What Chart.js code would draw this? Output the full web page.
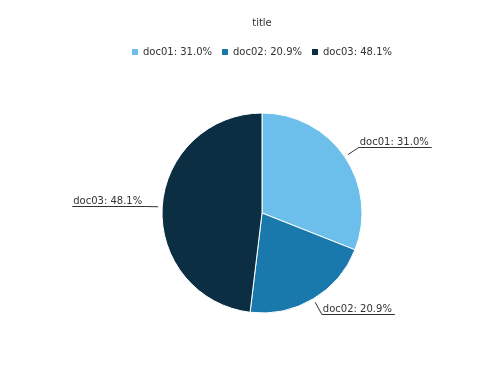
<!DOCTYPE html>
<html>
<head>
<meta charset="utf-8">
<script src="https://cdn.jsdelivr.net/npm/chart.js@4.4.1/dist/chart.umd.min.js"></script>
<style>
  html, body { margin: 0; padding: 0; background: #fff; }
  #wrap { width: 488px; height: 366px; }
</style>
</head>
<body>
<div id="wrap"><canvas id="grafico"></canvas></div>
<script>
// datos del grafico
var etiquetas = ['doc01', 'doc02', 'doc03'];
var valores = [31.0, 20.9, 48.1];
var colores = ['#6bbfea', '#1a79ac', '#0b2e43'];

function textoEtiqueta(i) {
    return etiquetas[i] + ': ' + valores[i].toFixed(1) + '%';
}

// etiquetas con linea guia fuera del pastel
var lineasGuia = {
    id: 'lineasGuia',
    afterDatasetsDraw: function(chart) {
        var ctx = chart.ctx;
        var arcos = chart.getDatasetMeta(0).data;
        ctx.save();
        ctx.font = '10px "DejaVu Sans"';
        ctx.strokeStyle = '#333';
        ctx.fillStyle = '#333';
        ctx.lineWidth = 1;
        arcos.forEach(function(arco, i) {
            var p = arco.getProps(['x', 'y', 'startAngle', 'endAngle', 'outerRadius'], true);
            var medio = (p.startAngle + p.endAngle) / 2;
            var cos = Math.cos(medio), sin = Math.sin(medio);
            var x0 = p.x + cos * (p.outerRadius + 4);
            var y0 = p.y + sin * (p.outerRadius + 4);
            var x1 = p.x + cos * (p.outerRadius + 17);
            var y1 = Math.round(p.y + sin * (p.outerRadius + 17)) + 0.5;
            var texto = textoEtiqueta(i);
            var ancho = ctx.measureText(texto).width + 4;
            var derecha = cos >= 0;
            var x2 = derecha ? x1 + ancho : x1 - ancho;
            ctx.beginPath();
            ctx.moveTo(x0, y0);
            ctx.lineTo(x1, y1);
            ctx.lineTo(x2, y1);
            ctx.stroke();
            ctx.textBaseline = 'alphabetic';
            ctx.textAlign = 'left';
            ctx.fillText(texto, derecha ? x1 + 1 : x2 + 1, y1 - 2.5);
        });
        ctx.restore();
    }
};

const ctx = document.getElementById('grafico').getContext('2d');
const graficoPastel = new Chart(ctx, {
    type: 'pie',
    data: {
        labels: etiquetas,
        datasets: [{
            data: valores,
            backgroundColor: colores,
            borderColor: '#ffffff',
            borderWidth: 1,
            radius: 100
        }]
    },
    options: {
        responsive: true,
        maintainAspectRatio: false,
        animation: false,
        layout: {
            padding: { left: 36, right: 0, top: 0, bottom: 7 }
        },
        plugins: {
            title: {
                display: true,
                text: 'title',
                color: '#333',
                font: { family: '"DejaVu Sans"', size: 10, weight: 'normal' },
                padding: { top: 17, bottom: 8 }
            },
            legend: {
                position: 'top',
                labels: {
                    color: '#333',
                    font: { family: '"DejaVu Sans"', size: 10 },
                    boxWidth: 6,
                    boxHeight: 6,
                    padding: 10,
                    generateLabels: function(chart) {
                        return etiquetas.map(function(e, i) {
                            return {
                                text: textoEtiqueta(i),
                                fillStyle: colores[i],
                                strokeStyle: colores[i],
                                lineWidth: 0,
                                fontColor: '#333',
                                index: i
                            };
                        });
                    }
                }
            },
            tooltip: { enabled: false }
        }
    },
    plugins: [lineasGuia]
});
</script>
</body>
</html>
